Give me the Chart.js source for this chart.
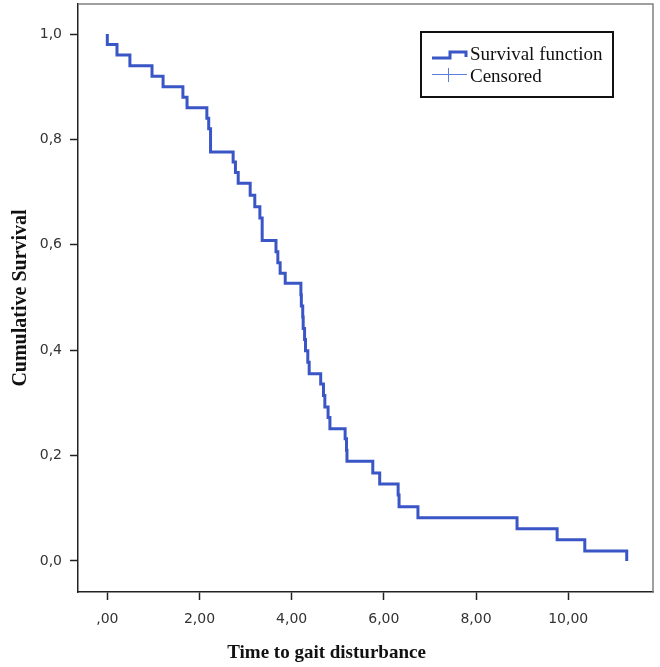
<!DOCTYPE html>
<html lang="en">
<head>
  <meta charset="UTF-8">
  <title>Time to gait disturbance</title>
  <script src="https://cdn.jsdelivr.net/npm/chart.js"></script>
  <style>
    html, body { margin: 0; padding: 0; background: #fff; }
  </style>
</head>
<body>
  <canvas id="kmChart" width="660" height="667"></canvas>

  <script>
    // Kaplan-Meier steps (time, survival after the event)
    const times = [0, 0, 0.21, 0.49, 0.97, 1.21, 1.64, 1.73, 2.16, 2.20, 2.24, 2.73, 2.78, 2.84,
      3.10, 3.20, 3.31, 3.36, 3.66, 3.70, 3.75, 3.86, 4.20, 4.21, 4.24, 4.25, 4.28, 4.30, 4.35,
      4.38, 4.63, 4.69, 4.72, 4.79, 4.83, 5.16, 5.19, 5.20, 5.76, 5.91, 6.31, 6.33, 6.74, 8.89,
      9.76, 10.36, 11.27];
    const survival = [1.0, 0.98, 0.96, 0.94, 0.92, 0.90, 0.88, 0.86, 0.84, 0.82, 0.776, 0.757,
      0.737, 0.717, 0.694, 0.672, 0.651, 0.608, 0.587, 0.566, 0.546, 0.527, 0.505, 0.484, 0.463,
      0.441, 0.42, 0.399, 0.377, 0.355, 0.336, 0.314, 0.292, 0.272, 0.251, 0.232, 0.21, 0.189,
      0.167, 0.146, 0.125, 0.103, 0.082, 0.061, 0.040, 0.019, 0.0];

    const xTickValues = [0, 2, 4, 6, 8, 10];
    const xTickLabels = [',00', '2,00', '4,00', '6,00', '8,00', '10,00'];
    const yTickValues = [0, 0.2, 0.4, 0.6, 0.8, 1.0];
    const yTickLabels = ['0,0', '0,2', '0,4', '0,6', '0,8', '1,0'];
    const seriesLabels = ['Survival function', 'Censored'];

    const lineBlue = '#3a56c6';
    const crossBlue = '#5d7ce0';
    const tickFont = { family: 'DejaVu Sans', size: 14 };

    // gray top/right frame + boxed legend inside the plot
    const boxLegend = {
      id: 'boxLegend',
      afterDraw(chart) {
        const ctx = chart.ctx;
        const a = chart.chartArea;
        ctx.save();
        ctx.strokeStyle = '#808080';
        ctx.lineWidth = 1.5;
        ctx.beginPath();
        ctx.moveTo(a.left, a.top);
        ctx.lineTo(a.right, a.top);
        ctx.lineTo(a.right, a.bottom);
        ctx.stroke();

        const bx = a.right - 232, by = a.top + 28;
        ctx.strokeStyle = '#111';
        ctx.lineWidth = 2;
        ctx.strokeRect(bx, by, 192, 65);

        // step icon
        ctx.strokeStyle = lineBlue;
        ctx.lineWidth = 3;
        ctx.lineJoin = 'miter';
        ctx.beginPath();
        ctx.moveTo(bx + 11, by + 26);
        ctx.lineTo(bx + 29, by + 26);
        ctx.lineTo(bx + 29, by + 20);
        ctx.lineTo(bx + 45, by + 20);
        ctx.lineTo(bx + 45, by + 25);
        ctx.stroke();

        // cross icon
        ctx.strokeStyle = crossBlue;
        ctx.lineWidth = 1;
        ctx.beginPath();
        ctx.moveTo(bx + 11, by + 42.5);
        ctx.lineTo(bx + 46, by + 42.5);
        ctx.moveTo(bx + 27.5, by + 36);
        ctx.lineTo(bx + 27.5, by + 50);
        ctx.stroke();

        ctx.fillStyle = '#111';
        ctx.font = '19px "Liberation Serif"';
        ctx.textBaseline = 'middle';
        ctx.textAlign = 'left';
        const labels = chart.data.datasets.map(d => d.label);
        ctx.fillText(labels[0], bx + 49, by + 23);
        ctx.fillText(labels[1], bx + 49, by + 45);
        ctx.restore();
      }
    };

    const ctx = document.getElementById('kmChart').getContext('2d');
    new Chart(ctx, {
      type: 'line',
      data: {
        datasets: [
          {
            label: seriesLabels[0],
            data: times.map((t, i) => ({ x: t, y: survival[i] })),
            borderColor: lineBlue,
            borderWidth: 3,
            stepped: true,
            pointRadius: 0,
            fill: false,
            borderJoinStyle: 'miter',
            borderCapStyle: 'butt'
          },
          {
            label: seriesLabels[1],
            data: [],
            borderColor: crossBlue,
            pointStyle: 'cross',
            showLine: false
          }
        ]
      },
      options: {
        responsive: false,
        animation: false,
        layout: { padding: { top: 4, right: 7, left: 0, bottom: 0 } },
        plugins: {
          legend: { display: false },
          tooltip: { enabled: false },
          title: {
            display: true,
            position: 'bottom',
            text: 'Time to gait disturbance',
            color: '#111',
            font: { family: 'Liberation Serif', size: 19, weight: 'bold' },
            padding: { top: 2, bottom: 3 }
          }
        },
        scales: {
          x: {
            type: 'linear',
            min: -0.636,
            max: 11.84,
            afterFit(scale) {
              scale.height = 47.2;
              scale.paddingLeft = 0;
              scale.paddingRight = 0;
            },
            afterBuildTicks(scale) { scale.ticks = xTickValues.map(v => ({ value: v })); },
            border: { color: '#222', width: 1.5 },
            grid: { drawOnChartArea: false, drawTicks: true, tickLength: 8, tickColor: '#222', tickWidth: 1.5 },
            ticks: {
              color: '#333',
              font: tickFont,
              padding: 11,
              maxRotation: 0,
              callback: (v, i) => xTickLabels[i]
            }
          },
          y: {
            type: 'linear',
            min: -0.059,
            max: 1.057,
            afterFit(scale) {
              scale.width = 78;
              scale.paddingTop = 0;
              scale.paddingBottom = 0;
            },
            afterBuildTicks(scale) { scale.ticks = yTickValues.map(v => ({ value: v })); },
            border: { color: '#222', width: 1.5 },
            grid: { drawOnChartArea: false, drawTicks: true, tickLength: 8, tickColor: '#222', tickWidth: 1.5 },
            ticks: {
              color: '#333',
              font: tickFont,
              padding: 8,
              callback: (v, i) => yTickLabels[i]
            },
            title: {
              display: true,
              text: 'Cumulative Survival',
              color: '#111',
              font: { family: 'Liberation Serif', size: 20, weight: 'bold' },
              padding: { top: 9, bottom: 0 }
            }
          }
        }
      },
      plugins: [boxLegend]
    });
  </script>
</body>
</html>
